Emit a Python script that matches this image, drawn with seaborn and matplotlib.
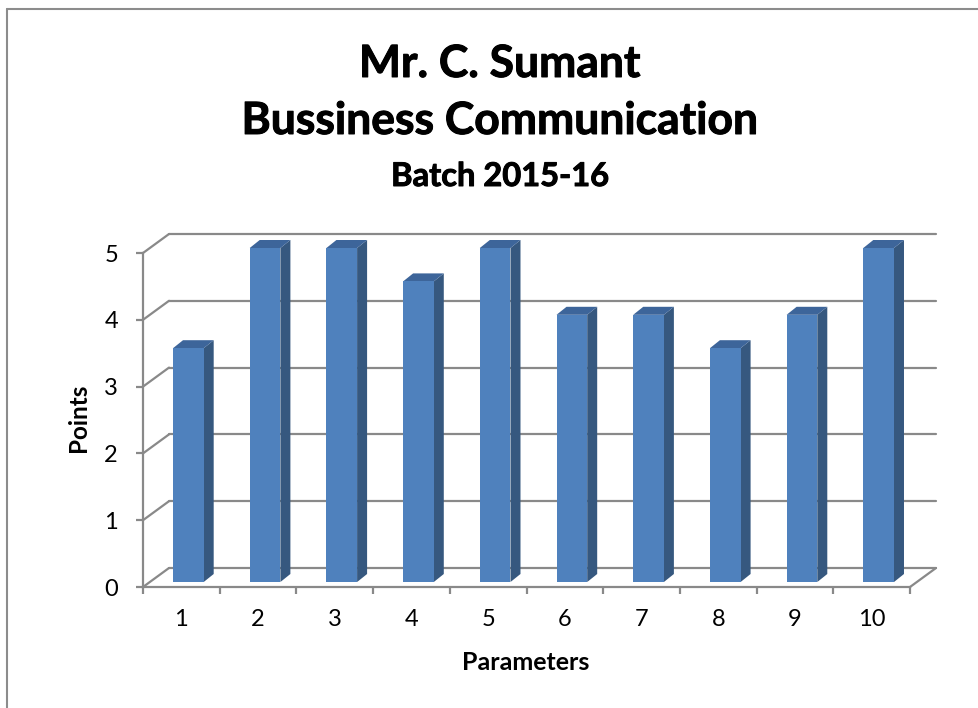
import matplotlib
matplotlib.use('Agg')
import matplotlib.pyplot as plt
import matplotlib.transforms as mtransforms
import matplotlib.patheffects as pe
from matplotlib.patches import Polygon
from matplotlib.lines import Line2D
import seaborn as sns
import pandas as pd
import numpy as np

# data
params = ['1', '2', '3', '4', '5', '6', '7', '8', '9', '10']
points = [3.5, 5, 5, 4.5, 5, 4, 4, 3.5, 4, 5]
y_ticks = [0, 1, 2, 3, 4, 5]

sns.set_theme(style='white')
plt.rcParams['font.family'] = ['Lato', 'DejaVu Sans']
plt.rcParams['text.color'] = 'black'

W, H = 979, 708
fig = plt.figure(figsize=(W / 100, H / 100), dpi=100)
ax = fig.add_axes([143 / W, 121 / H, 767 / W, 334 / H])

df = pd.DataFrame({'Parameter': params, 'Points': points})
sns.barplot(data=df, x='Parameter', y='Points', color='#4F81BD',
            width=0.40, saturation=1, ax=ax)

ax.set_xlim(-0.5, len(params) - 0.5)
ax.set_ylim(0, 5)
grey = '#898989'
for s in ['top', 'right']:
    ax.spines[s].set_visible(False)
for s in ['left', 'bottom']:
    ax.spines[s].set_color(grey)
    ax.spines[s].set_linewidth(1.6)

ax.set_yticks(y_ticks)
ax.set_yticklabels([str(v) for v in y_ticks])
ax.set_xticks(np.arange(-0.5, len(params), 1))
ax.set_xticklabels([''] * (len(params) + 1))
ax.set_xticks(range(len(params)), minor=True)
ax.set_xticklabels(params, minor=True)
ax.tick_params(axis='both', which='major', length=5, width=1.6, color=grey,
               direction='out', bottom=True, left=True)
ax.tick_params(axis='y', pad=13, labelsize=17, labelcolor='black')
ax.tick_params(axis='x', which='minor', length=0, pad=16, labelsize=17,
               labelcolor='black', bottom=True)
ax.set_xlabel('')
ax.set_ylabel('')

# pseudo 3D: back wall offset and bar depth, in pixels
back_dx, back_dy = 26, 19
bar_dx, bar_dy = 7, 5
depth_dx, depth_dy = 10, 8
ident = mtransforms.IdentityTransform()


def disp(x, y, dx=0, dy=0):
    X, Y = ax.transData.transform((x, y))
    return (X + dx, Y + dy)


x0, x1 = -0.5, len(params) - 0.5
for v in y_ticks:
    ax.add_line(Line2D(*zip(disp(x0, v), disp(x0, v, back_dx, back_dy)),
                       transform=ident, color=grey, lw=1.6, zorder=1, clip_on=False))
    ax.add_line(Line2D(*zip(disp(x0, v, back_dx, back_dy), disp(x1, v, back_dx, back_dy)),
                       transform=ident, color=grey, lw=1.6, zorder=1, clip_on=False))
ax.add_line(Line2D(*zip(disp(x1, 0), disp(x1, 0, back_dx, back_dy)),
                   transform=ident, color=grey, lw=1.6, zorder=1, clip_on=False))

shift = ax.transData + mtransforms.ScaledTranslation(bar_dx / 100, bar_dy / 100,
                                                     fig.dpi_scale_trans)
for p in ax.patches:
    bx, bw, bh = p.get_x(), p.get_width(), p.get_height()
    p.set_transform(shift)
    p.set_zorder(3)
    p.set_clip_on(False)
    p.set_edgecolor('none')
    side = [disp(bx + bw, 0, bar_dx, bar_dy), disp(bx + bw, bh, bar_dx, bar_dy),
            disp(bx + bw, bh, bar_dx + depth_dx, bar_dy + depth_dy),
            disp(bx + bw, 0, bar_dx + depth_dx, bar_dy + depth_dy)]
    top = [disp(bx, bh, bar_dx, bar_dy), disp(bx + bw, bh, bar_dx, bar_dy),
           disp(bx + bw, bh, bar_dx + depth_dx, bar_dy + depth_dy),
           disp(bx, bh, bar_dx + depth_dx, bar_dy + depth_dy)]
    ax.add_patch(Polygon(side, closed=True, transform=ident, facecolor='#36587F',
                         edgecolor='none', zorder=2.9, clip_on=False))
    ax.add_patch(Polygon(top, closed=True, transform=ident, facecolor='#3D659A',
                         edgecolor='none', zorder=2.9, clip_on=False))

# titles and axis titles
heavy = [pe.withStroke(linewidth=0.7, foreground='black')]
fig.text(500 / W, 1 - 77 / H, 'Mr. C. Sumant', ha='center', va='baseline',
         fontsize=32, fontweight='bold', path_effects=heavy)
fig.text(500 / W, 1 - 134 / H, 'Bussiness Communication', ha='center', va='baseline',
         fontsize=32, fontweight='bold', path_effects=heavy)
fig.text(500 / W, 1 - 186 / H, 'Batch 2015-16', ha='center', va='baseline',
         fontsize=23.5, fontweight='bold', path_effects=heavy)
fig.text(526 / W, 1 - 670 / H, 'Parameters', ha='center', va='baseline',
         fontsize=18, fontweight='bold')
fig.text(78 / W, 1 - 418 / H, 'Points', ha='center', va='center', rotation=90,
         fontsize=17.5, fontweight='bold')

# outer chart border
fig.add_artist(Line2D([7 / W, 7 / W], [0, 1 - 9 / H], transform=fig.transFigure,
                      color='#8c8c8c', lw=1.5))
fig.add_artist(Line2D([7 / W, 1], [1 - 9 / H, 1 - 9 / H], transform=fig.transFigure,
                      color='#8c8c8c', lw=1.5))

fig.savefig('out.png', dpi=100)
